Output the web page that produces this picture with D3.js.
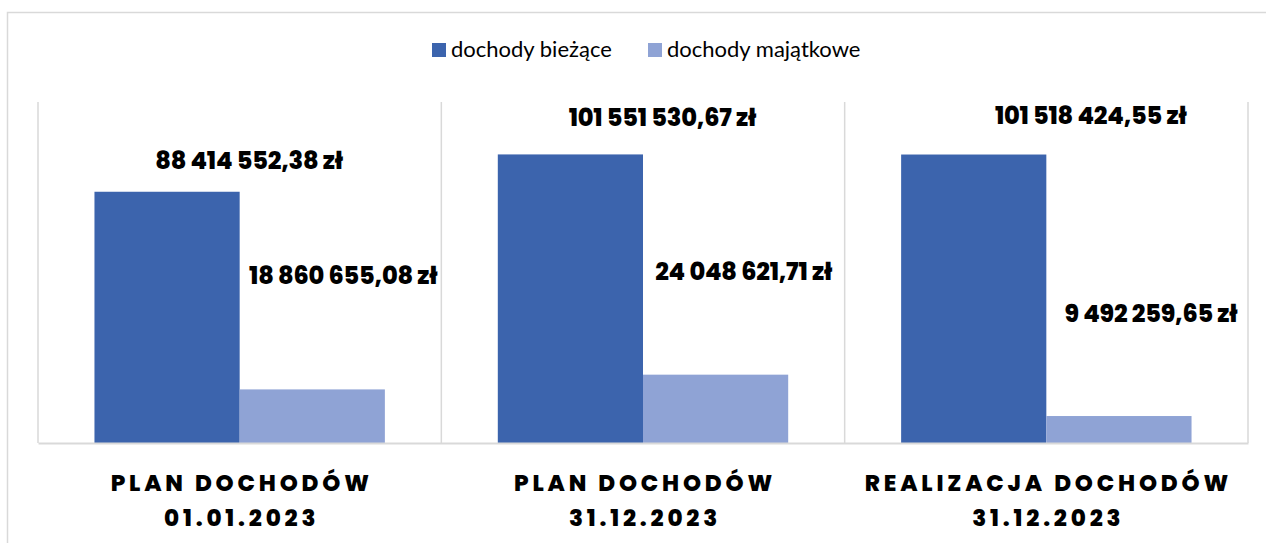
<!DOCTYPE html>
<html>
<head>
<meta charset="utf-8">
<script src="https://cdn.jsdelivr.net/npm/d3@7"></script>
<style>
  body { margin: 0; background: #fff; }
  svg { display: block; }
</style>
</head>
<body>
<svg width="1266" height="543"></svg>
<script>
const categories = ['PLAN DOCHODÓW|01.01.2023', 'PLAN DOCHODÓW|31.12.2023', 'REALIZACJA DOCHODÓW|31.12.2023'];
const seriesNames = ['dochody bieżące', 'dochody majątkowe'];
const biezace = [88414552.38, 101551530.67, 101518424.55];
const majatkowe = [18860655.08, 24048621.71, 9492259.65];
const yMax = 120000000;

// hand-placed data labels, as in the source: [dx from bar centre, dy from bar top]
const labelNudge = [
  [[82, -23], [31, -105]],
  [[92, -28], [28, -95]],
  [[117, -31], [32, -94]]
];

const colors = ['#3c64ad', '#8fa3d5'];
const grid = '#d9d9d9';
const labelFont = 'Poppins, Inter, "DejaVu Sans", sans-serif';

const svg = d3.select('svg');
const plot = { left: 38, right: 1248, top: 102, bottom: 443 };

const pl = d3.formatLocale({ decimal: ',', thousands: ' ', grouping: [3], currency: ['', ' zł'] });
const fmt = pl.format('$,.2f');

// outer frame
svg.append('rect')
  .attr('x', 7.5).attr('y', 12.5)
  .attr('width', 1280).attr('height', 560)
  .attr('fill', 'none').attr('stroke', grid).attr('stroke-width', 1.5);

const x0 = d3.scaleBand()
  .domain(categories)
  .range([plot.left, plot.right])
  .paddingInner(0.28)
  .paddingOuter(0.14);
const x1 = d3.scaleBand()
  .domain(seriesNames)
  .range([0, x0.bandwidth()]);
const y = d3.scaleLinear()
  .domain([0, yMax])
  .range([plot.bottom, plot.top]);

// vertical separators between categories
const half = x0.step() * x0.paddingInner() / 2;
const bounds = categories.map(c => x0(c) - half).concat([plot.right]);
svg.append('g').selectAll('line').data(bounds)
  .enter().append('line')
  .attr('x1', d => d).attr('x2', d => d)
  .attr('y1', plot.top).attr('y2', plot.bottom)
  .attr('stroke', grid).attr('stroke-width', 1.5);

const rows = categories.map((c, i) => ({ cat: c, i, vals: [biezace[i], majatkowe[i]] }));

const groups = svg.append('g').selectAll('g').data(rows)
  .enter().append('g')
  .attr('transform', d => `translate(${x0(d.cat)},0)`);

groups.selectAll('rect')
  .data(d => d.vals.map((v, k) => ({ v, k, s: seriesNames[k] })))
  .enter().append('rect')
  .attr('x', d => x1(d.s))
  .attr('y', d => y(d.v))
  .attr('width', x1.bandwidth())
  .attr('height', d => y(0) - y(d.v))
  .attr('fill', d => colors[d.k]);

groups.selectAll('text')
  .data(d => d.vals.map((v, k) => ({ v, k, s: seriesNames[k], nudge: labelNudge[d.i][k] })))
  .enter().append('text')
  .attr('x', d => x1(d.s) + x1.bandwidth() / 2 + d.nudge[0])
  .attr('y', d => y(d.v) + d.nudge[1])
  .attr('text-anchor', 'middle')
  .style('font-family', labelFont)
  .style('font-weight', 800)
  .style('font-size', '24px')
  .style('letter-spacing', '-0.2px')
  .attr('fill', '#000')
  .text(d => fmt(d.v));

// category axis
const xAxis = d3.axisBottom(x0).tickSize(0).tickSizeOuter(0).tickFormat('');
const xAxisG = svg.append('g')
  .attr('transform', `translate(0,${plot.bottom})`)
  .call(xAxis);
xAxisG.select('.domain').attr('stroke', grid).attr('stroke-width', 2);
xAxisG.selectAll('.tick text').remove();
xAxisG.selectAll('.tick').each(function(d) {
  const t = d3.select(this).append('text')
    .attr('text-anchor', 'middle')
    .attr('fill', '#000')
    .style('font-family', labelFont)
    .style('font-weight', 800)
    .style('font-size', '23px')
    .style('letter-spacing', '3.8px');
  d.split('|').forEach((line, j) => {
    t.append('tspan').attr('x', 2).attr('y', 48 + j * 35).text(line);
  });
});

// legend
const legend = svg.append('g').selectAll('g').data(seriesNames)
  .enter().append('g')
  .attr('transform', (d, i) => `translate(${[432, 648][i]},43)`);
legend.append('rect')
  .attr('width', 14).attr('height', 14)
  .attr('fill', (d, i) => colors[i]);
legend.append('text')
  .attr('x', 19).attr('y', 14)
  .style('font-family', 'Lato, "Liberation Sans", sans-serif')
  .style('font-size', '22px')
  .attr('fill', '#000')
  .text(d => d);
</script>
</body>
</html>
